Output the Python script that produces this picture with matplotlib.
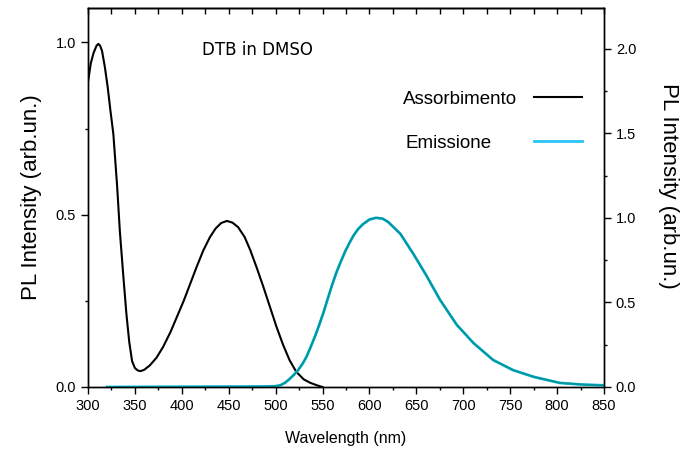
import matplotlib
matplotlib.use("Agg")
import matplotlib.pyplot as plt
from matplotlib.ticker import MultipleLocator

plt.rcParams['font.family'] = ['Liberation Sans', 'DejaVu Sans']

# Assorbimento (asse sinistro)
abs_wl = [300, 303, 306, 309, 311, 313, 315, 318, 321, 324, 327, 331, 334, 338, 341,
          344, 347, 350, 353, 356, 360, 366, 373, 380, 388, 395, 402, 409, 416, 423,
          430, 436, 442, 448, 454, 460, 467, 473, 480, 487, 494, 501, 508, 515, 522,
          530, 537, 544, 550]
abs_val = [0.885, 0.94, 0.97, 0.99, 0.996, 0.99, 0.975, 0.928, 0.87, 0.80, 0.735, 0.585,
           0.45, 0.31, 0.21, 0.13, 0.075, 0.055, 0.048, 0.046, 0.05, 0.063, 0.085, 0.116,
           0.16, 0.205, 0.25, 0.30, 0.35, 0.397, 0.435, 0.46, 0.476, 0.482, 0.477, 0.464,
           0.435, 0.397, 0.345, 0.29, 0.232, 0.174, 0.122, 0.077, 0.044, 0.022, 0.012,
           0.005, 0.0]

# Emissione (asse destro)
em_wl = [320, 400, 460, 490, 500, 505, 510, 515, 520, 524, 529, 533, 538, 542, 546, 551,
         556, 560, 565, 569, 574, 579, 583, 588, 593, 600, 607, 614, 620, 633, 647, 661,
         675, 693, 711, 732, 753, 775, 803, 828, 850]
em_val = [0.0, 0.001, 0.002, 0.003, 0.005, 0.01, 0.025, 0.048, 0.075, 0.10, 0.14, 0.18,
          0.245, 0.30, 0.36, 0.44, 0.53, 0.60, 0.68, 0.735, 0.80, 0.855, 0.895, 0.934,
          0.962, 0.99, 1.0, 0.995, 0.975, 0.905, 0.785, 0.656, 0.517, 0.368, 0.259, 0.159,
          0.10, 0.06, 0.024, 0.014, 0.01]

fig = plt.figure(figsize=(6.87, 4.51), dpi=100)
ax = fig.add_axes([88 / 687, 1 - 387 / 451, 516 / 687, 379 / 451])
ax2 = ax.twinx()

l1, = ax.plot(abs_wl, abs_val, color='black', lw=1.5, label='Assorbimento')
l2, = ax2.plot(em_wl, em_val, color='#29c5f6', lw=2.0, label='Emissione')
ax2.plot(em_wl, em_val, color='#00979c', lw=1.5)

ax.set_xlim(300, 850)
ax.set_ylim(0, 1.1)
ax2.set_ylim(0, 2.24)

ax.xaxis.set_major_locator(MultipleLocator(50))
ax.xaxis.set_minor_locator(MultipleLocator(25))
ax.yaxis.set_major_locator(MultipleLocator(0.5))
ax.yaxis.set_minor_locator(MultipleLocator(0.25))
ax2.yaxis.set_major_locator(MultipleLocator(0.5))
ax2.yaxis.set_minor_locator(MultipleLocator(0.25))
ax.yaxis.set_major_formatter(lambda v, p: f'{v:.1f}')
ax2.yaxis.set_major_formatter(lambda v, p: f'{v:.1f}')

ax.tick_params(which='major', direction='out', length=5, width=1, labelsize=10.5)
ax.tick_params(which='minor', direction='out', length=2.5, width=1)
ax2.tick_params(which='major', direction='out', length=5, width=1, labelsize=10.5)
ax2.tick_params(which='minor', direction='out', length=2.5, width=1)

top = ax.secondary_xaxis('top')
top.xaxis.set_major_locator(MultipleLocator(25))
top.tick_params(direction='in', length=4.5, width=1, labeltop=False)

for a in (ax, ax2):
    for s in a.spines.values():
        s.set_linewidth(1.0)
top.spines['top'].set_linewidth(1.0)

ax.set_xlabel('Wavelength (nm)', fontsize=11.5, labelpad=13)
ax.set_ylabel('PL Intensity (arb.un.)', fontsize=16)
ax.yaxis.set_label_coords(-0.089, 0.5)
ax2.set_ylabel('PL Intensity (arb.un.)', fontsize=16, rotation=270, va='bottom')
ax2.yaxis.set_label_coords(1.105, 0.53)

ax.text(0.328, 0.89, 'DTB in DMSO', transform=ax.transAxes, ha='center', va='center',
        fontsize=12, family='DejaVu Sans')

leg_kw = dict(loc='center right', frameon=False, markerfirst=False, fontsize=13.5,
              handlelength=2.56, borderpad=0, borderaxespad=0)
leg1 = ax.legend([l1], ['Assorbimento'], bbox_to_anchor=(0.957, 0.76),
                 handletextpad=0.9, **leg_kw)
ax.add_artist(leg1)
ax.legend([l2], ['Emissione'], bbox_to_anchor=(0.957, 0.643),
          handletextpad=2.24, **leg_kw)

fig.savefig('out.png', dpi=100)
